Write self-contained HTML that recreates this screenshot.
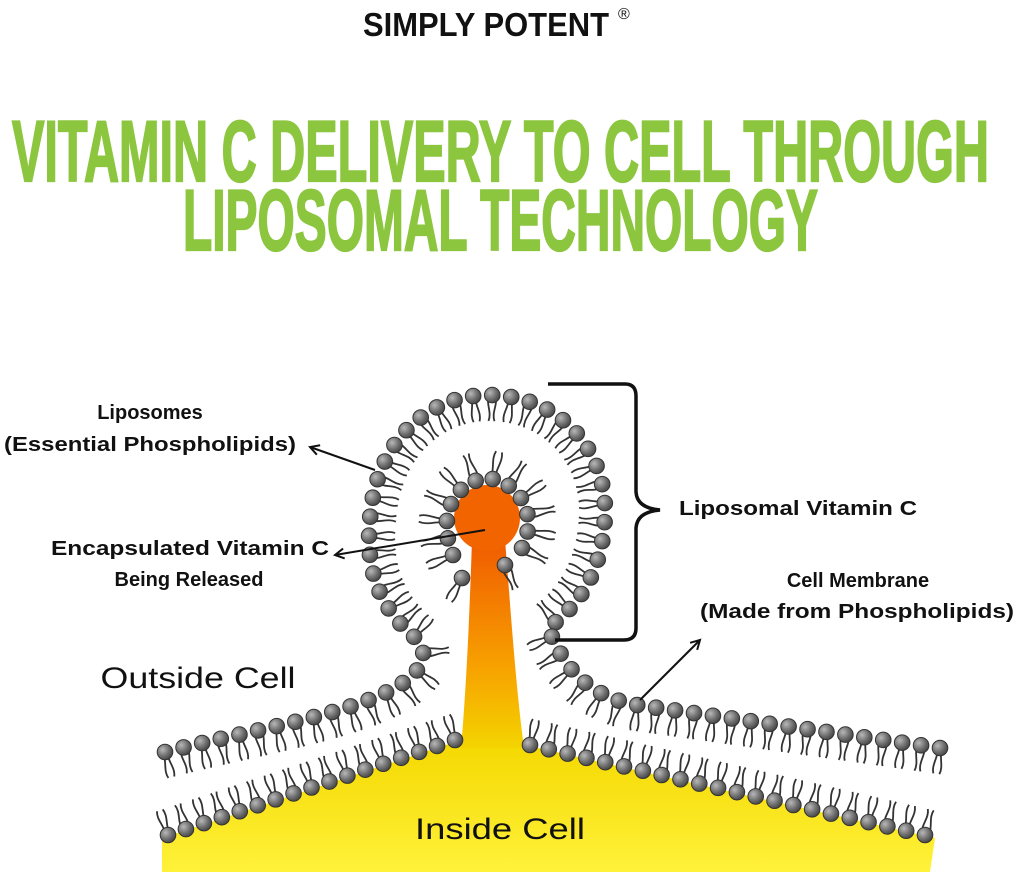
<!DOCTYPE html>
<html><head><meta charset="utf-8">
<style>
html,body{margin:0;padding:0;background:#fff;width:1018px;height:876px;overflow:hidden}
svg{display:block}
text{font-family:"Liberation Sans",sans-serif}
</style></head>
<body>
<svg id="s" width="1018" height="876" viewBox="0 0 1018 876" xmlns="http://www.w3.org/2000/svg">
<defs>
<radialGradient id="hg" cx="0.35" cy="0.35" r="0.7">
<stop offset="0" stop-color="#b8b8b8"/><stop offset="0.6" stop-color="#6e6e6e"/><stop offset="1" stop-color="#444"/>
</radialGradient>
<linearGradient id="yg" x1="0" y1="0" x2="0" y2="1">
<stop offset="0" stop-color="#f4d800"/><stop offset="1" stop-color="#fff23a"/>
</linearGradient>
<linearGradient id="og" x1="0" y1="0" x2="0" y2="1">
<stop offset="0" stop-color="#f05a00"/><stop offset="0.6" stop-color="#f7a000"/><stop offset="1" stop-color="#f4d400"/>
</linearGradient>
<marker id="ar" markerWidth="12" markerHeight="12" refX="10" refY="6" orient="auto" markerUnits="userSpaceOnUse">
<path d="M1,1 L10,6 L1,11" fill="none" stroke="#111" stroke-width="2"/>
</marker>
</defs>

<text x="486" y="36" font-size="33" font-weight="bold" text-anchor="middle" textLength="246" lengthAdjust="spacingAndGlyphs" fill="#111">SIMPLY POTENT</text>
<text x="618" y="19" font-size="16" fill="#111">®</text>

<text x="12" y="181" font-size="86" font-weight="bold" textLength="977" lengthAdjust="spacingAndGlyphs" fill="#8cc63f" stroke="#8cc63f" stroke-width="2.2">VITAMIN C DELIVERY TO CELL THROUGH</text>
<text x="183" y="250" font-size="86" font-weight="bold" textLength="635" lengthAdjust="spacingAndGlyphs" fill="#8cc63f" stroke="#8cc63f" stroke-width="2.2">LIPOSOMAL TECHNOLOGY</text>

<path d="M162,872 L162,838 L455,742 L525,745 L935,838 L930,872 Z" fill="url(#yg)"/>
<path d="M461,748 C467,680 470,600 472,540 L505,540 C510,600 515,680 524,748 Z" fill="url(#og)"/>
<circle cx="487" cy="518" r="33" fill="#f26400"/>

<g id="lip"></g>

<path d="M548,384 L625,384 Q636,384 636,396 L636,492 Q637,508 660,510 Q637,512 636,528 L636,628 Q636,640 624,640 L555,640" fill="none" stroke="#111" stroke-width="3.5"/>

<line x1="375" y1="470" x2="310" y2="447" stroke="#111" stroke-width="2" marker-end="url(#ar)"/>
<line x1="485" y1="530" x2="335" y2="555" stroke="#111" stroke-width="2" marker-end="url(#ar)"/>
<line x1="640" y1="700" x2="700" y2="640" stroke="#111" stroke-width="2" marker-end="url(#ar)"/>

<g font-weight="bold" font-size="20" fill="#111">
<text x="150" y="419" text-anchor="middle">Liposomes</text>
<text x="150" y="451" text-anchor="middle" textLength="292" lengthAdjust="spacingAndGlyphs">(Essential Phospholipids)</text>
<text x="190" y="555" text-anchor="middle" textLength="278" lengthAdjust="spacingAndGlyphs">Encapsulated Vitamin C</text>
<text x="189" y="586" text-anchor="middle">Being Released</text>
<text x="798" y="515" text-anchor="middle" textLength="238" lengthAdjust="spacingAndGlyphs">Liposomal Vitamin C</text>
<text x="858" y="587" text-anchor="middle">Cell Membrane</text>
<text x="857" y="618" text-anchor="middle" textLength="314" lengthAdjust="spacingAndGlyphs">(Made from Phospholipids)</text>
</g>
<text x="198" y="688" font-size="30" text-anchor="middle" fill="#111" textLength="195" lengthAdjust="spacingAndGlyphs">Outside Cell</text>
<text x="500" y="839" font-size="30" text-anchor="middle" fill="#111" textLength="170" lengthAdjust="spacingAndGlyphs">Inside Cell</text>
</svg>
<script>
(function(){
var NS="http://www.w3.org/2000/svg";
var g=document.getElementById('lip');
var tails=document.createElementNS(NS,'g'),heads=document.createElementNS(NS,'g');
g.appendChild(tails);g.appendChild(heads);
function head(x,y){var c=document.createElementNS(NS,'circle');c.setAttribute('cx',x);c.setAttribute('cy',y);c.setAttribute('r',7.8);c.setAttribute('fill','url(#hg)');c.setAttribute('stroke','#333');c.setAttribute('stroke-width','1');heads.appendChild(c);}
function tail(x,y,nx,ny,L,k){
 var tx=-ny,ty=nx;
 [-3,3].forEach(function(o,i){
  var sx=x+tx*o,sy=y+ty*o,w=(i==k%2?3.5:-3.5);
  var d="M"+sx+","+sy+" C"+(sx+nx*L*0.35+tx*w)+","+(sy+ny*L*0.35+ty*w)+" "+(sx+nx*L*0.65-tx*w)+","+(sy+ny*L*0.65-ty*w)+" "+(sx+nx*L)+","+(sy+ny*L);
  var p=document.createElementNS(NS,'path');p.setAttribute('d',d);p.setAttribute('fill','none');p.setAttribute('stroke','#333');p.setAttribute('stroke-width','1.8');tails.appendChild(p);
 });
}
function layer(d,sp,side,L){
 var p=document.createElementNS(NS,'path');p.setAttribute('d',d);document.getElementById('s').appendChild(p);
 var len=p.getTotalLength(),n=Math.round(len/sp),k=0;
 for(var i=0;i<=n;i++){
  var s=len*i/n,a=p.getPointAtLength(s),b=p.getPointAtLength(Math.min(len,s+0.5)),c=p.getPointAtLength(Math.max(0,s-0.5));
  var dx=b.x-c.x,dy=b.y-c.y,m=Math.hypot(dx,dy)||1;dx/=m;dy/=m;
  var nx=side*-dy,ny=side*dx;
  tail(a.x,a.y,nx,ny,L,k++);head(a.x,a.y);
 }
 p.remove();
}
layer("M165,752 C260,728 350,715 400,685 C425,668 428,655 418,640 C380,610 365,570 370,520 C375,440 430,395 488,395 C560,395 607,450 605,515 C603,570 580,605 548,628 C560,655 575,690 630,704 L940,748",19,1,26);
layer("M168,835 L455,740",19,-1,26);
layer("M530,745 L925,835",19,-1,26);
layer("M453,555 C438,520 450,483 487,478 C525,483 537,520 522,548",18,-1,28);
tail(462,578,-0.5,0.87,26,0);head(462,578);
tail(505,565,0.4,0.92,26,1);head(505,565);
})();
</script>
</body></html>
